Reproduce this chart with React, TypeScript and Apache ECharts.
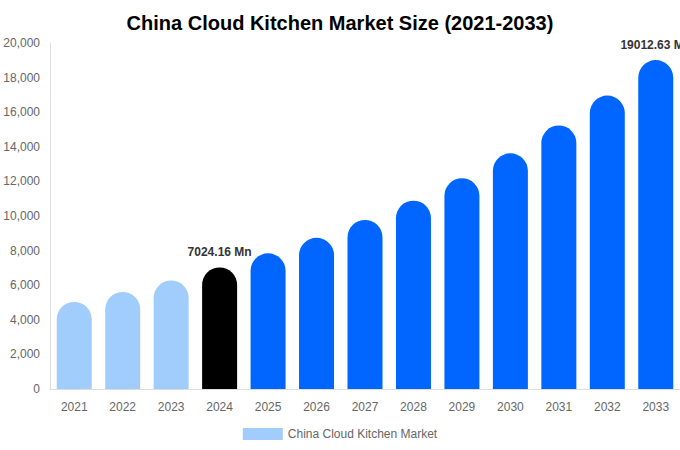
import React, { useEffect, useRef } from "react";
import * as echarts from "echarts";

const categories = ["2021", "2022", "2023", "2024", "2025", "2026", "2027", "2028", "2029", "2030", "2031", "2032", "2033"];
const values = [5030, 5610, 6270, 7024.16, 7844, 8740, 9770, 10884, 12180, 13624, 15230, 16960, 19012.63];
const labelled = ["2024", "2033"];
const historicYears = ["2021", "2022", "2023"];
const baseYear = "2024";
const seriesName = "China Cloud Kitchen Market";
const titleText = "China Cloud Kitchen Market Size (2021-2033)";

export default function App() {
  const ref = useRef<HTMLDivElement>(null);
  useEffect(() => {
    document.body.style.margin = "0";
    const chart = echarts.init(ref.current!, null, { renderer: "svg" });
    const data = categories.map((c, i) => {
      const color = historicYears.includes(c) ? "#a0cdfc" : c === baseYear ? "#000000" : "#0066ff";
      return {
        value: values[i],
        itemStyle: { color },
        label: {
          show: labelled.includes(c),
          position: "top",
          distance: 9,
          formatter: (p: any) => `${p.value} Mn`,
          fontWeight: "bold",
          fontSize: 12,
          color: "#333",
          fontFamily: "Liberation Sans, Arial, sans-serif",
        },
      };
    });
    chart.setOption({
      animation: false,
      textStyle: { fontFamily: "Liberation Sans, Arial, sans-serif" },
      title: {
        text: titleText,
        left: "center",
        top: 8,
        textStyle: { fontSize: 20, fontWeight: "bold", color: "#000" },
      },
      legend: {
        bottom: 5,
        left: "center",
        itemWidth: 40,
        itemHeight: 12,
        itemGap: 6,
        icon: "rect",
        textStyle: { color: "#666", fontSize: 12 },
        data: [{ name: seriesName, itemStyle: { color: "#a0cdfc" } }],
      },
      grid: { left: 50, right: 0, top: 43, bottom: 61, containLabel: false },
      xAxis: {
        type: "category",
        data: categories,
        axisLine: { lineStyle: { color: "#ddd" } },
        axisTick: { show: false },
        axisLabel: { color: "#666", fontSize: 12, margin: 12 },
      },
      yAxis: {
        type: "value",
        min: 0,
        max: 20000,
        interval: 2000,
        axisLine: { show: true, lineStyle: { color: "#ddd" } },
        axisTick: { show: false },
        splitLine: { show: false },
        axisLabel: {
          color: "#666",
          fontSize: 12,
          margin: 10,
          formatter: (v: number) => v.toLocaleString("en-US"),
        },
      },
      series: [
        {
          name: seriesName,
          type: "bar",
          data,
          barWidth: 35,
          itemStyle: { borderRadius: [18, 18, 0, 0] },
        },
      ],
    });
    return () => chart.dispose();
  }, []);
  return <div ref={ref} style={{ width: 680, height: 450 }} />;
}
